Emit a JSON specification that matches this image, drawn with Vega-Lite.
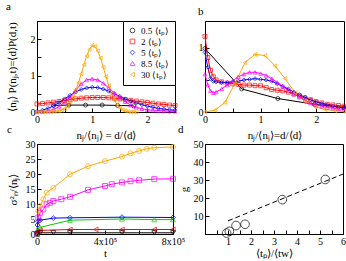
{
  "$schema": "https://vega.github.io/schema/vega-lite/v6.json",
  "background": "white",
  "padding": {"left": 5, "top": 0, "right": 2, "bottom": 0},
  "columns": 2,
  "spacing": {"row": 32, "column": 30},
  "bounds": "flush",
  "resolve": {"scale": {"color": "independent", "shape": "independent"}},
  "concat": [
    {
      "width": 138, "height": 91,
      "title": {"text": "a"},
      "data": {"values": [
        {"s":"0.5","x":0.3,"y":0.18},{"s":"0.5","x":0.58,"y":0.19},{"s":"0.5","x":0.88,"y":0.19},{"s":"0.5","x":1.18,"y":0.19},{"s":"0.5","x":1.46,"y":0.18},{"s":"0.5","x":1.75,"y":0.17},
        {"s":"2","x":0.0,"y":0.22},{"s":"2","x":0.1,"y":0.23},{"s":"2","x":0.2,"y":0.25},{"s":"2","x":0.3,"y":0.27},{"s":"2","x":0.4,"y":0.29},{"s":"2","x":0.5,"y":0.31},{"s":"2","x":0.6,"y":0.34},{"s":"2","x":0.7,"y":0.36},{"s":"2","x":0.8,"y":0.38},{"s":"2","x":0.9,"y":0.39},{"s":"2","x":1.0,"y":0.4},{"s":"2","x":1.1,"y":0.4},{"s":"2","x":1.2,"y":0.4},{"s":"2","x":1.3,"y":0.39},{"s":"2","x":1.4,"y":0.38},{"s":"2","x":1.5,"y":0.36},{"s":"2","x":1.6,"y":0.34},{"s":"2","x":1.7,"y":0.32},{"s":"2","x":1.8,"y":0.3},{"s":"2","x":1.9,"y":0.28},{"s":"2","x":2.0,"y":0.26},{"s":"2","x":2.1,"y":0.24},{"s":"2","x":2.2,"y":0.22},{"s":"2","x":2.3,"y":0.21},{"s":"2","x":2.4,"y":0.19},{"s":"2","x":2.5,"y":0.18},
        {"s":"5","x":0.0,"y":0.02},{"s":"5","x":0.1,"y":0.05},{"s":"5","x":0.2,"y":0.1},{"s":"5","x":0.3,"y":0.17},{"s":"5","x":0.4,"y":0.26},{"s":"5","x":0.5,"y":0.36},{"s":"5","x":0.6,"y":0.46},{"s":"5","x":0.7,"y":0.55},{"s":"5","x":0.8,"y":0.62},{"s":"5","x":0.9,"y":0.66},{"s":"5","x":1.0,"y":0.68},{"s":"5","x":1.1,"y":0.67},{"s":"5","x":1.2,"y":0.63},{"s":"5","x":1.3,"y":0.57},{"s":"5","x":1.4,"y":0.5},{"s":"5","x":1.5,"y":0.43},{"s":"5","x":1.6,"y":0.36},{"s":"5","x":1.7,"y":0.3},{"s":"5","x":1.8,"y":0.25},{"s":"5","x":1.9,"y":0.2},{"s":"5","x":2.0,"y":0.16},{"s":"5","x":2.1,"y":0.13},{"s":"5","x":2.2,"y":0.1},{"s":"5","x":2.3,"y":0.08},{"s":"5","x":2.4,"y":0.06},{"s":"5","x":2.5,"y":0.05},
        {"s":"8.5","x":0.0,"y":0.0},{"s":"8.5","x":0.1,"y":0.01},{"s":"8.5","x":0.2,"y":0.03},{"s":"8.5","x":0.3,"y":0.07},{"s":"8.5","x":0.4,"y":0.15},{"s":"8.5","x":0.5,"y":0.27},{"s":"8.5","x":0.6,"y":0.42},{"s":"8.5","x":0.7,"y":0.6},{"s":"8.5","x":0.8,"y":0.77},{"s":"8.5","x":0.9,"y":0.88},{"s":"8.5","x":1.0,"y":0.91},{"s":"8.5","x":1.1,"y":0.88},{"s":"8.5","x":1.2,"y":0.79},{"s":"8.5","x":1.3,"y":0.66},{"s":"8.5","x":1.4,"y":0.53},{"s":"8.5","x":1.5,"y":0.4},{"s":"8.5","x":1.6,"y":0.28},{"s":"8.5","x":1.7,"y":0.19},{"s":"8.5","x":1.8,"y":0.13},{"s":"8.5","x":1.9,"y":0.09},{"s":"8.5","x":2.0,"y":0.06},{"s":"8.5","x":2.1,"y":0.05},{"s":"8.5","x":2.2,"y":0.04},{"s":"8.5","x":2.3,"y":0.03},{"s":"8.5","x":2.4,"y":0.02},{"s":"8.5","x":2.5,"y":0.02},
        {"s":"30","x":0.0,"y":0.0},{"s":"30","x":0.05,"y":0.0},{"s":"30","x":0.1,"y":0.0},{"s":"30","x":0.15,"y":0.0},{"s":"30","x":0.2,"y":0.0},{"s":"30","x":0.25,"y":0.0},{"s":"30","x":0.3,"y":0.01},{"s":"30","x":0.35,"y":0.01},{"s":"30","x":0.4,"y":0.03},{"s":"30","x":0.45,"y":0.05},{"s":"30","x":0.5,"y":0.09},{"s":"30","x":0.55,"y":0.16},{"s":"30","x":0.6,"y":0.26},{"s":"30","x":0.65,"y":0.4},{"s":"30","x":0.7,"y":0.58},{"s":"30","x":0.75,"y":0.8},{"s":"30","x":0.8,"y":1.05},{"s":"30","x":0.85,"y":1.3},{"s":"30","x":0.9,"y":1.54},{"s":"30","x":0.95,"y":1.72},{"s":"30","x":1.0,"y":1.83},{"s":"30","x":1.05,"y":1.8},{"s":"30","x":1.1,"y":1.68},{"s":"30","x":1.15,"y":1.48},{"s":"30","x":1.2,"y":1.23},{"s":"30","x":1.25,"y":0.97},{"s":"30","x":1.3,"y":0.72},{"s":"30","x":1.35,"y":0.5},{"s":"30","x":1.4,"y":0.33},{"s":"30","x":1.45,"y":0.2},{"s":"30","x":1.5,"y":0.12},{"s":"30","x":1.55,"y":0.06},{"s":"30","x":1.6,"y":0.03},{"s":"30","x":1.65,"y":0.01},{"s":"30","x":1.7,"y":0.0},{"s":"30","x":1.75,"y":0.0},{"s":"30","x":1.8,"y":0.0}
      ]},
      "encoding": {
        "x": {"field": "x", "type": "quantitative", "scale": {"domain": [0, 2.5], "nice": false},
              "axis": {"title": "nⱼ/⟨nⱼ⟩ = d/⟨d⟩", "titlePadding": 5, "values": [0, 0.5, 1, 1.5, 2, 2.5], "labelExpr": "datum.value % 1 === 0 ? format(datum.value, 'd') : ''"}},
        "y": {"field": "y", "type": "quantitative", "scale": {"domain": [0, 2.5], "nice": false},
              "axis": {"title": "⟨nⱼ⟩ P(nⱼ,t)=⟨d⟩P(d,t)", "titlePadding": 13, "values": [0, 0.5, 1, 1.5, 2, 2.5], "labelExpr": "datum.value % 1 === 0 ? format(datum.value, 'd') : ''"}},
        "color": {"field": "s", "type": "nominal", "scale": {"domain": ["0.5", "2", "5", "8.5", "30"], "range": ["#000000", "#ff0000", "#0000ff", "#ff00ff", "#ffa500"]},
                  "legend": {"labelExpr": "datum.label + ' ⟨tₚ⟩'"}}
      },
      "layer": [
        {"mark": {"type": "line", "strokeWidth": 1}},
        {"mark": {"type": "point", "filled": false, "size": 16, "strokeWidth": 1},
         "encoding": {"shape": {"field": "s", "type": "nominal", "scale": {"domain": ["0.5", "2", "5", "8.5", "30"], "range": ["circle", "square", "diamond", "triangle-up", "triangle-left"]},
                                "legend": {"labelExpr": "datum.label + ' ⟨tₚ⟩'"}}}}
      ]
    },
    {
      "width": 139, "height": 91,
      "title": {"text": "b"},
      "data": {"values": [
        {"s":"0.5","x":0.0,"y":0.99},{"s":"0.5","x":0.66,"y":0.36},{"s":"0.5","x":1.31,"y":0.21},{"s":"0.5","x":1.97,"y":0.12},{"s":"0.5","x":2.5,"y":0.07},
        {"s":"2","x":0.0,"y":1.18},{"s":"2","x":0.05,"y":0.85},{"s":"2","x":0.1,"y":0.65},{"s":"2","x":0.15,"y":0.55},{"s":"2","x":0.2,"y":0.5},{"s":"2","x":0.3,"y":0.47},{"s":"2","x":0.4,"y":0.45},{"s":"2","x":0.5,"y":0.44},{"s":"2","x":0.6,"y":0.43},{"s":"2","x":0.7,"y":0.42},{"s":"2","x":0.8,"y":0.42},{"s":"2","x":0.9,"y":0.41},{"s":"2","x":1.0,"y":0.41},{"s":"2","x":1.1,"y":0.38},{"s":"2","x":1.2,"y":0.35},{"s":"2","x":1.3,"y":0.34},{"s":"2","x":1.4,"y":0.33},{"s":"2","x":1.5,"y":0.31},{"s":"2","x":1.6,"y":0.28},{"s":"2","x":1.7,"y":0.25},{"s":"2","x":1.8,"y":0.22},{"s":"2","x":1.9,"y":0.19},{"s":"2","x":2.0,"y":0.16},{"s":"2","x":2.1,"y":0.14},{"s":"2","x":2.2,"y":0.12},{"s":"2","x":2.3,"y":0.11},{"s":"2","x":2.4,"y":0.1},{"s":"2","x":2.5,"y":0.09},
        {"s":"5","x":0.0,"y":0.93},{"s":"5","x":0.05,"y":0.7},{"s":"5","x":0.1,"y":0.52},{"s":"5","x":0.15,"y":0.48},{"s":"5","x":0.2,"y":0.47},{"s":"5","x":0.3,"y":0.46},{"s":"5","x":0.4,"y":0.46},{"s":"5","x":0.5,"y":0.47},{"s":"5","x":0.6,"y":0.48},{"s":"5","x":0.7,"y":0.5},{"s":"5","x":0.8,"y":0.51},{"s":"5","x":0.9,"y":0.52},{"s":"5","x":1.0,"y":0.51},{"s":"5","x":1.1,"y":0.5},{"s":"5","x":1.2,"y":0.48},{"s":"5","x":1.3,"y":0.44},{"s":"5","x":1.4,"y":0.4},{"s":"5","x":1.5,"y":0.36},{"s":"5","x":1.6,"y":0.31},{"s":"5","x":1.7,"y":0.27},{"s":"5","x":1.8,"y":0.23},{"s":"5","x":1.9,"y":0.19},{"s":"5","x":2.0,"y":0.16},{"s":"5","x":2.1,"y":0.13},{"s":"5","x":2.2,"y":0.11},{"s":"5","x":2.3,"y":0.09},{"s":"5","x":2.4,"y":0.07},{"s":"5","x":2.5,"y":0.06},
        {"s":"8.5","x":0.0,"y":0.59},{"s":"8.5","x":0.05,"y":0.42},{"s":"8.5","x":0.1,"y":0.33},{"s":"8.5","x":0.15,"y":0.3},{"s":"8.5","x":0.2,"y":0.31},{"s":"8.5","x":0.3,"y":0.36},{"s":"8.5","x":0.4,"y":0.42},{"s":"8.5","x":0.5,"y":0.49},{"s":"8.5","x":0.6,"y":0.55},{"s":"8.5","x":0.7,"y":0.59},{"s":"8.5","x":0.8,"y":0.62},{"s":"8.5","x":0.9,"y":0.62},{"s":"8.5","x":1.0,"y":0.6},{"s":"8.5","x":1.1,"y":0.57},{"s":"8.5","x":1.2,"y":0.52},{"s":"8.5","x":1.3,"y":0.46},{"s":"8.5","x":1.4,"y":0.4},{"s":"8.5","x":1.5,"y":0.34},{"s":"8.5","x":1.6,"y":0.28},{"s":"8.5","x":1.7,"y":0.23},{"s":"8.5","x":1.8,"y":0.18},{"s":"8.5","x":1.9,"y":0.14},{"s":"8.5","x":2.0,"y":0.11},{"s":"8.5","x":2.1,"y":0.09},{"s":"8.5","x":2.2,"y":0.07},{"s":"8.5","x":2.3,"y":0.06},{"s":"8.5","x":2.4,"y":0.05},{"s":"8.5","x":2.5,"y":0.04},
        {"s":"30","x":0.0,"y":0.0},{"s":"30","x":0.18,"y":0.03},{"s":"30","x":0.36,"y":0.15},{"s":"30","x":0.54,"y":0.45},{"s":"30","x":0.72,"y":0.77},{"s":"30","x":0.9,"y":0.9},{"s":"30","x":1.08,"y":0.88},{"s":"30","x":1.26,"y":0.72},{"s":"30","x":1.44,"y":0.52},{"s":"30","x":1.62,"y":0.3},{"s":"30","x":1.8,"y":0.17},{"s":"30","x":1.98,"y":0.08},{"s":"30","x":2.16,"y":0.04},{"s":"30","x":2.34,"y":0.02},{"s":"30","x":2.5,"y":0.01}
      ]},
      "encoding": {
        "x": {"field": "x", "type": "quantitative", "scale": {"domain": [0, 2.5], "nice": false},
              "axis": {"title": "nⱼ/⟨nⱼ⟩=d/⟨d⟩", "titlePadding": 5, "values": [0, 0.5, 1, 1.5, 2, 2.5], "labelExpr": "datum.value % 1 === 0 ? format(datum.value, 'd') : ''"}},
        "y": {"field": "y", "type": "quantitative", "scale": {"domain": [0, 1.42], "nice": false},
              "axis": {"title": null, "values": [0, 0.5, 1], "labelExpr": "datum.value % 1 === 0 ? format(datum.value, 'd') : ''"}},
        "color": {"field": "s", "type": "nominal", "legend": null, "scale": {"domain": ["0.5", "2", "5", "8.5", "30"], "range": ["#000000", "#ff0000", "#0000ff", "#ff00ff", "#ffa500"]}}
      },
      "layer": [
        {"mark": {"type": "line", "strokeWidth": 1}},
        {"mark": {"type": "point", "filled": false, "size": 16, "strokeWidth": 1},
         "encoding": {"shape": {"field": "s", "type": "nominal", "legend": null, "scale": {"domain": ["0.5", "2", "5", "8.5", "30"], "range": ["circle", "square", "diamond", "triangle-up", "triangle-left"]}}}}
      ]
    },
    {
      "width": 136, "height": 90,
      "title": {"text": "c"},
      "data": {"values": [
        {"s":"o","t":0,"v":0},{"s":"o","t":7600,"v":7.7},{"s":"o","t":18000,"v":9.3},{"s":"o","t":37000,"v":11.6},{"s":"o","t":57000,"v":13.8},{"s":"o","t":96000,"v":15.4},{"s":"o","t":194000,"v":19.9},{"s":"o","t":300000,"v":22.6},{"s":"o","t":400000,"v":24.3},{"s":"o","t":500000,"v":25.8},{"s":"o","t":550000,"v":26.9},{"s":"o","t":600000,"v":27.7},{"s":"o","t":645000,"v":28.4},{"s":"o","t":690000,"v":28.8},{"s":"o","t":800000,"v":29.0},
        {"s":"m","t":0,"v":0},{"s":"m","t":7600,"v":5.5},{"s":"m","t":18000,"v":7.1},{"s":"m","t":37000,"v":8.2},{"s":"m","t":57000,"v":9.9},{"s":"m","t":76000,"v":10.4},{"s":"m","t":96000,"v":11.0},{"s":"m","t":143000,"v":11.6},{"s":"m","t":194000,"v":12.4},{"s":"m","t":300000,"v":14.7},{"s":"m","t":400000,"v":16.0},{"s":"m","t":440000,"v":16.6},{"s":"m","t":500000,"v":17.2},{"s":"m","t":550000,"v":17.6},{"s":"m","t":600000,"v":17.9},{"s":"m","t":690000,"v":18.3},{"s":"m","t":800000,"v":18.4},
        {"s":"b","t":0,"v":0},{"s":"b","t":3000,"v":3.0},{"s":"b","t":8000,"v":4.2},{"s":"b","t":18000,"v":4.6},{"s":"b","t":96000,"v":5.3},{"s":"b","t":194000,"v":5.4},{"s":"b","t":500000,"v":5.6},{"s":"b","t":800000,"v":5.5},
        {"s":"g","t":0,"v":0},{"s":"g","t":3000,"v":1.5},{"s":"g","t":18000,"v":2.2},{"s":"g","t":194000,"v":4.6},{"s":"g","t":500000,"v":5.0},{"s":"g","t":690000,"v":4.8},{"s":"g","t":800000,"v":4.8},
        {"s":"r","t":0,"v":0},{"s":"r","t":3000,"v":0.8},{"s":"r","t":18000,"v":1.2},{"s":"r","t":194000,"v":1.5},{"s":"r","t":346000,"v":1.5},{"s":"r","t":500000,"v":1.5},{"s":"r","t":690000,"v":1.5},{"s":"r","t":800000,"v":1.5},
        {"s":"k","t":0,"v":0},{"s":"k","t":18000,"v":0.4},{"s":"k","t":96000,"v":0.4},{"s":"k","t":194000,"v":0.4},{"s":"k","t":500000,"v":0.4},{"s":"k","t":690000,"v":0.4},{"s":"k","t":800000,"v":0.4}
      ]},
      "encoding": {
        "x": {"field": "t", "type": "quantitative", "scale": {"domain": [0, 800000], "nice": false},
              "axis": {"title": "t", "titlePadding": 1, "values": [0, 200000, 400000, 600000, 800000], "labelExpr": "datum.value == 0 ? '0' : datum.value == 400000 ? '4x10⁵' : datum.value == 800000 ? '8x10⁵' : ''"}},
        "y": {"field": "v", "type": "quantitative", "scale": {"domain": [0, 30], "nice": false},
              "axis": {"title": "σ²ₙ/⟨nⱼ⟩", "titlePadding": 7, "values": [0, 5, 10, 15, 20, 25, 30]}},
        "color": {"field": "s", "type": "nominal", "legend": null, "scale": {"domain": ["o", "m", "b", "g", "r", "k"], "range": ["#ffa500", "#ff00ff", "#0000ff", "#00cc00", "#ff0000", "#000000"]}}
      },
      "layer": [
        {"mark": {"type": "line", "strokeWidth": 1}},
        {"mark": {"type": "point", "filled": false, "size": 25, "strokeWidth": 1, "clip": false},
         "encoding": {"shape": {"field": "s", "type": "nominal", "legend": null, "scale": {"domain": ["o", "m", "b", "g", "r", "k"], "range": ["circle", "square", "diamond", "triangle-up", "triangle-left", "triangle-down"]}}}}
      ]
    },
    {
      "width": 138, "height": 90,
      "title": {"text": "d"},
      "layer": [
        {
          "data": {"values": [{"r": 1.0, "g": 7.3}, {"r": 6.0, "g": 33.3}]},
          "mark": {"type": "line", "color": "black", "strokeWidth": 1, "strokeDash": [5, 3], "clip": true},
          "encoding": {
            "x": {"field": "r", "type": "quantitative"},
            "y": {"field": "g", "type": "quantitative"}
          }
        },
        {
          "data": {"values": [{"r": 0.94, "g": 0.5}, {"r": 1.06, "g": 1.5}, {"r": 1.35, "g": 4.7}, {"r": 1.74, "g": 5.4}, {"r": 3.36, "g": 19.1}, {"r": 5.23, "g": 30.3}]},
          "mark": {"type": "point", "shape": "circle", "filled": false, "color": "black", "size": 75, "strokeWidth": 1},
          "encoding": {
            "x": {"field": "r", "type": "quantitative"},
            "y": {"field": "g", "type": "quantitative"}
          }
        }
      ],
      "encoding": {
        "x": {"field": "r", "type": "quantitative", "scale": {"domain": [0, 6], "nice": false},
              "axis": {"title": "⟨tₚ⟩/⟨tw⟩", "titlePadding": 1, "values": [0.5, 1, 1.5, 2, 2.5, 3, 3.5, 4, 4.5, 5, 5.5, 6], "labelExpr": "datum.value % 1 === 0 ? format(datum.value, 'd') : ''"}},
        "y": {"field": "g", "type": "quantitative", "scale": {"domain": [0, 50], "nice": false},
              "axis": {"title": "g", "titlePadding": 4, "values": [10, 20, 30, 40, 50]}}
      }
    }
  ],
  "config": {
    "font": "Liberation Serif",
    "view": {"stroke": "black", "strokeWidth": 1},
    "axis": {"grid": false, "domainColor": "black", "domainWidth": 1, "tickColor": "black", "labelColor": "black", "titleColor": "black",
             "labelFont": "Liberation Serif", "titleFont": "Liberation Serif", "labelFontSize": 10, "titleFontSize": 11, "titleFontWeight": "normal",
             "tickSize": -4, "labelPadding": 6, "labelFlush": false, "labelOverlap": false},
    "title": {"font": "Liberation Serif", "fontSize": 11, "fontWeight": "normal", "anchor": "start", "offset": 0, "color": "black"},
    "legend": {"orient": "top-right", "offset": 0, "title": null, "strokeColor": "black", "fillColor": "white", "padding": 5,
               "labelFont": "Liberation Serif", "labelFontSize": 9, "labelColor": "black", "symbolSize": 22, "symbolStrokeWidth": 1, "rowPadding": 1}
  }
}
